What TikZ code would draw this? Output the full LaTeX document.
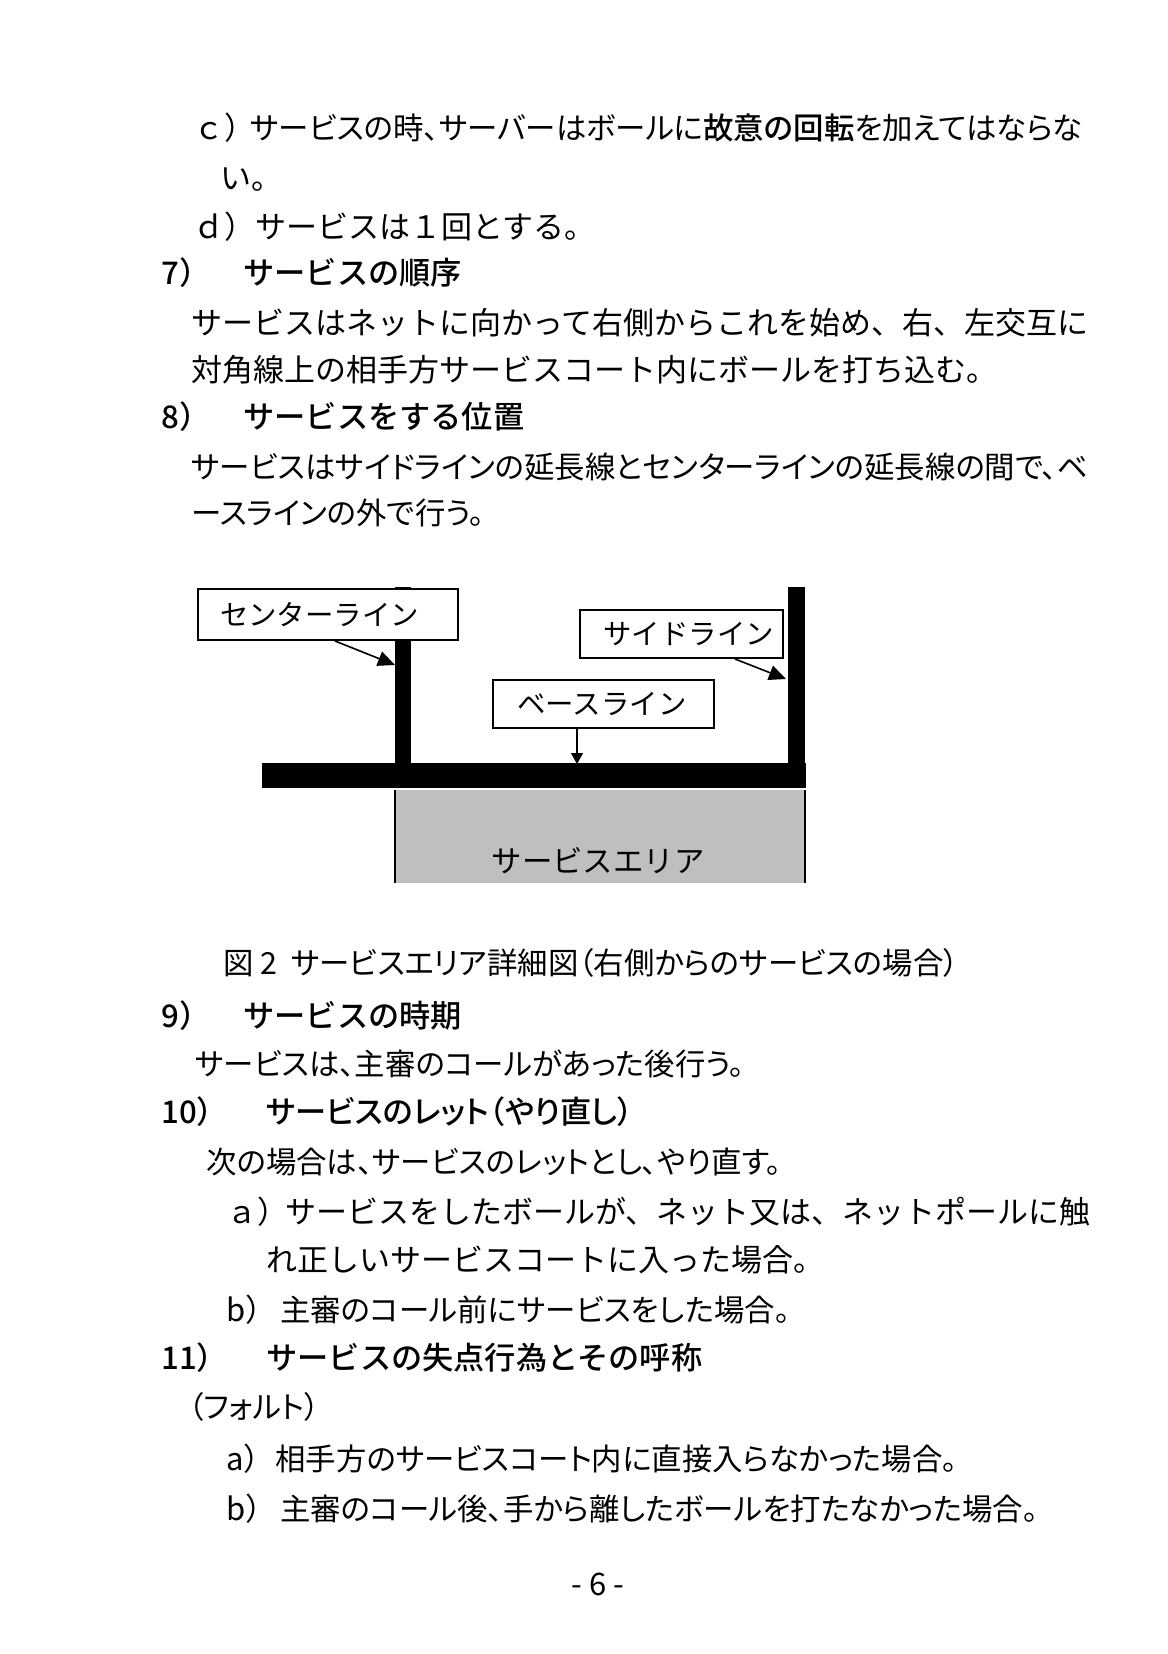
\documentclass[tikz,border=0pt]{standalone}
\usepackage{fontspec}
\setmainfont{Noto Sans CJK JP}[BoldFont={Noto Sans CJK JP Medium}]
\newfontfamily\pjp{Noto Sans CJK JP}[RawFeature=+palt,BoldFont={Noto Sans CJK JP Medium}]
\usetikzlibrary{arrows.meta}
\tikzset{
    body/.style ={
        anchor=base west,
        inner sep=0pt,
        font=\fontsize{15.5}{18}\selectfont
    },
    prop/.style ={
        body,
        font=\fontsize{15.2}{18}\selectfont\pjp
    },
    head/.style ={
        body,
        font=\fontsize{15.6}{18}\selectfont\bfseries
    },
    label/.style ={
        draw=black,
        line width=1pt,
        fill=white,
        anchor=north west,
        inner sep=0pt,
        align=left,
        font=\fontsize{14.2}{17}\selectfont
    },
    arr/.style ={
        -{Triangle[length=8.5pt,width=7.5pt]},
        line width=0.8pt
    }
}

\begin{document}
\begin{tikzpicture}[x=0.5pt,y=-0.5pt]
    \useasboundingbox (0,0) rectangle (1167,1654);
    % text above the figure
    \node[body] (lc) at(193,139) {ｃ）};
    \node[prop] (tc) at(250,139) {サービスの時、サーバーはボールに\textbf{故意の回転}を加えてはならな};
    \node[body] (tc2) at(220,189) {い。};
    \node[body] (ld) at(193,238) {ｄ）サービスは１回とする。};
    \node[head] (n7) at(161,284) {7）};
    \node[head] (h7) at(243,284) {サービスの順序};
    \node[body] (t7a) at(191,334) {サービスはネットに向かって右側からこれを始め、右、左交互に};
    \node[body] (t7b) at(191,381) {対角線上の相手方サービスコート内にボールを打ち込む。};
    \node[head] (n8) at(161,428) {8）};
    \node[head] (h8) at(243,428) {サービスをする位置};
    \node[prop] (t8a) at(191,478) {サービスはサイドラインの延長線とセンターラインの延長線の間で、ベ};
    \node[prop] (t8b) at(191,524) {ースラインの外で行う。};
    % figure
    \fill (395,587) rectangle (411,764);
    \fill (788,587) rectangle (805,764);
    \fill (262,763) rectangle (806,788);
    \fill[gray!50] (395,790) rectangle (805,883);
    \draw[line width=1pt] (395,790) -- (395,883);
    \draw[line width=1pt] (805,790) -- (805,883);
    \node[body,anchor=center,font=\fontsize{15.2}{18}\selectfont] (area) at(598,861) {サービスエリア};
    \node[label,minimum width=130pt,minimum height=25.5pt,text width=120pt] (centre) at(197,588) {\hspace*{6pt}センターライン};
    \node[label,minimum width=101.5pt,minimum height=24pt,text width=92pt] (side) at(579,609) {\hspace*{7pt}サイドライン};
    \node[label,minimum width=110.5pt,minimum height=24pt,text width=100pt] (base) at(492,679) {\hspace*{7pt}ベースライン};
    \coordinate (centretip) at(395,665);
    \coordinate (sidetip) at(786,679);
    \coordinate (basetip) at(577,764);
    \draw[arr] ([xshift=69pt]centre.south west) -- (centretip);
    \draw[arr] ([xshift=78pt]side.south west) -- (sidetip);
    \draw[arr,-{Triangle[length=5.5pt,width=6pt]}] ([xshift=42.5pt]base.south west) -- (basetip);
    % text below the figure
    \node[prop] (cap) at(223,974) {図 2 \ サービスエリア詳細図（右側からのサービスの場合）};
    \node[head] (n9) at(161,1027) {9）};
    \node[head] (h9) at(243,1027) {サービスの時期};
    \node[prop] (t9) at(195,1075) {サービスは、主審のコールがあった後行う。};
    \node[head] (n10) at(161,1123) {10）};
    \node[head,font=\fontsize{15.6}{18}\selectfont\pjp\bfseries] (h10) at(266,1123) {サービスのレット（やり直し）};
    \node[prop] (t10) at(206,1173) {次の場合は、サービスのレットとし、やり直す。};
    \node[body] (la) at(226,1223) {ａ）};
    \node[body] (ta) at(285,1223) {サービスをしたボールが、ネット又は、ネットポールに触};
    \node[body] (ta2) at(266,1271) {れ正しいサービスコートに入った場合。};
    \node[body] (lb) at(226,1321) {b）};
    \node[prop] (tb) at(280,1321) {主審のコール前にサービスをした場合。};
    \node[head] (n11) at(161,1369) {11）};
    \node[head] (h11) at(266,1369) {サービスの失点行為とその呼称};
    \node[prop] (fault) at(188,1418) {（フォルト）};
    \node[body] (fa) at(226,1470) {a）};
    \node[prop] (tfa) at(275,1470) {相手方のサービスコート内に直接入らなかった場合。};
    \node[body] (fb) at(226,1520) {b）};
    \node[prop] (tfb) at(280,1520) {主審のコール後、手から離したボールを打たなかった場合。};
    \node[body,anchor=base] (page) at(598,1595) {- 6 -};
\end{tikzpicture}
\end{document}
